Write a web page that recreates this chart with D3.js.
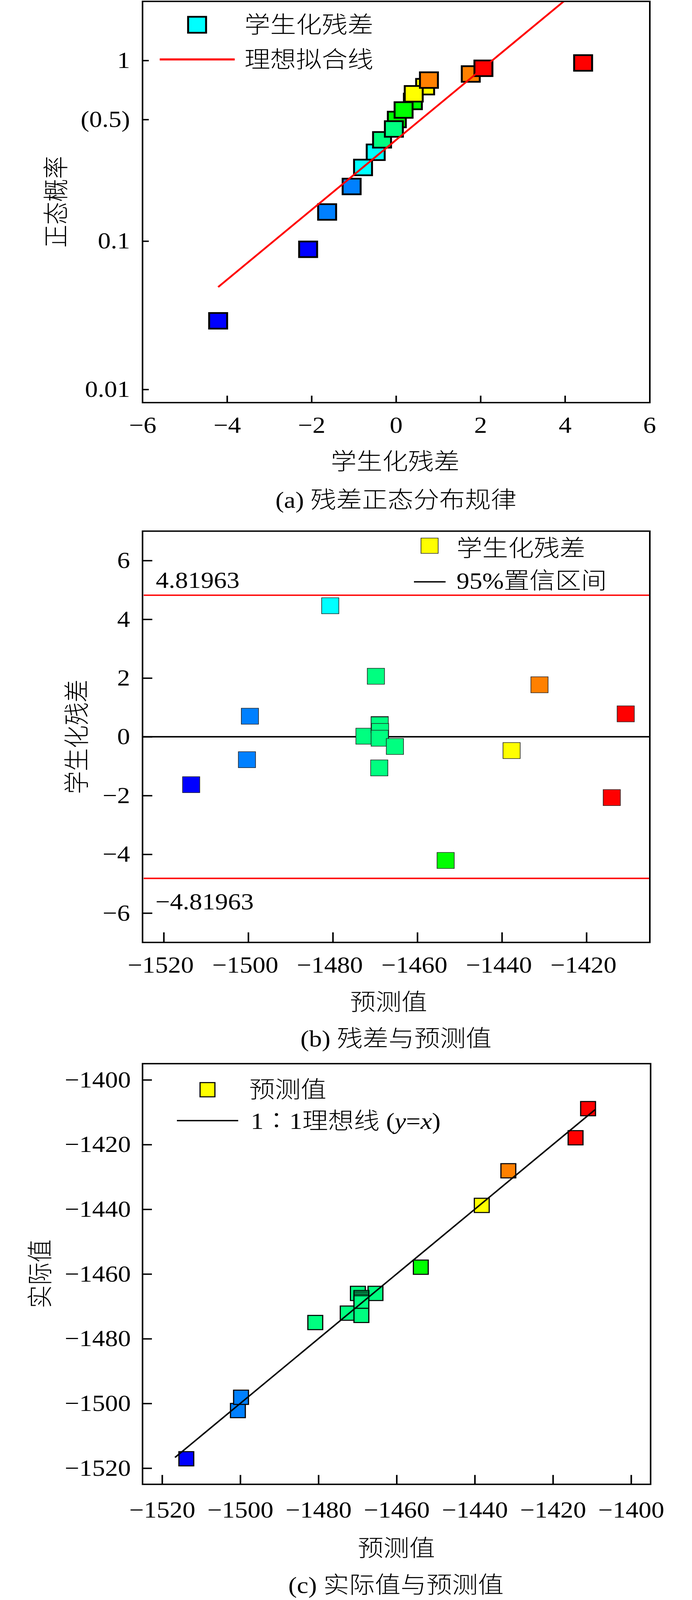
<!DOCTYPE html>
<html><head><meta charset="utf-8">
<script src="https://cdn.jsdelivr.net/npm/d3@7"></script>
<style>
html,body{margin:0;padding:0;background:#fff;overflow:hidden;}
svg{display:block;}
text{font-family:'Liberation Serif','Times New Roman','Noto Sans CJK SC',serif;fill:#000;font-weight:300;}
</style>
</head><body>
<svg id="chart"></svg>
<script>
// ---------- Panel (a): normal probability of studentized residuals ----------
const residA = [-4.21, -2.08, -1.63, -1.05, -0.48, -0.78, -0.33, 0.02, -0.05, 0.40, 0.69, 0.18, 0.42, 0.78, 1.77, 2.07, 4.43];
const probA  = [0.029, 0.088, 0.147, 0.206, 0.324, 0.265, 0.382, 0.500, 0.441, 0.618, 0.735, 0.559, 0.676, 0.794, 0.853, 0.912, 0.971];
const colorA = ['#0000ff','#0000ff','#0080ff','#0080ff','#00ffff','#00ffff','#00ff80','#00ff00','#00ff80','#00ff00','#ffff00','#00ff00','#ffff00','#ff8000','#ff8000','#ff0000','#ff0000'];
const xTicksA = [-6, -4, -2, 0, 2, 4, 6];
const yTicksA = [0.01, 0.1, 0.5, 1];
const yTickLabelsA = ['0.01', '0.1', '(0.5)', '1'];
const fitLineX = [-4.21, 3.97];
const fitLineP = [0.049, 2.0];
const legendA = ['学生化残差', '理想拟合线'];

// ---------- Panel (b): residuals vs predicted ----------
const predB  = [-1513.5, -1500.3, -1499.6, -1480.6, -1469.8, -1472.5, -1468.9, -1468.9, -1468.8, -1468.9, -1465.3, -1469.0, -1453.3, -1437.7, -1431.1, -1414.0, -1410.7];
const residB = [-1.63, -0.78, 0.70, 4.46, 2.06, 0.02, 0.42, 0.40, 0.18, -0.05, -0.33, -1.06, -4.21, -0.47, 1.77, -2.07, 0.78];
const colorB = ['#0000ff','#0080ff','#0080ff','#00ffff','#00ff80','#00ff80','#00ff80','#00ff80','#00ff80','#00ff80','#00ff80','#00ff80','#00ff00','#ffff00','#ff8000','#ff0000','#ff0000'];
const confLimit = 4.81963;
const xTicksB = [-1520, -1500, -1480, -1460, -1440, -1420];
const yTicksB = [-6, -4, -2, 0, 2, 4, 6];
const legendB = ['学生化残差', '95%置信区间'];

// ---------- Panel (c): actual vs predicted ----------
const predC   = [-1513.8, -1500.6, -1499.8, -1480.8, -1472.5, -1469.9, -1465.4, -1469.0, -1469.0, -1469.0, -1469.0, -1469.0, -1453.8, -1438.2, -1431.4, -1414.2, -1411.0];
const actualC = [-1517.1, -1502.2, -1498.1, -1475.0, -1472.1, -1466.0, -1466.0, -1467.3, -1467.8, -1468.4, -1468.9, -1472.8, -1457.9, -1438.8, -1428.1, -1417.9, -1408.9];
const colorC  = ['#0000ff','#0080ff','#0080ff','#00ff80','#00ff80','#00ff80','#00ff80','#00ff80','#00ff80','#00ff80','#00ff80','#00ff80','#00ff00','#ffff00','#ff8000','#ff0000','#ff0000'];
const idealLine = [-1516.7, -1409.2];
const ticksC = [-1520, -1500, -1480, -1460, -1440, -1420, -1400];
const legendC = ['预测值', '1∶1理想线 '];

const W = 1772, H = 4606;
const FS = 66;
// fit the full figure into the actual viewport height (the window may be shorter than the figure)
const viewH = Math.min(H, window.innerHeight || H);
const svg = d3.select('#chart').attr('width', W).attr('height', viewH)
  .attr('viewBox', `0 0 ${W} ${H}`).attr('preserveAspectRatio', 'none');
const fmt = d3.format('d');

function styleAxis(g) {
  g.attr('font-family', null).attr('font-size', FS);
  g.select('.domain').remove();
  g.selectAll('.tick line').attr('stroke', '#000').attr('stroke-width', 4);
  g.selectAll('.tick text').attr('fill', '#000');
}
function frame(x0, y0, x1, y1) {
  svg.append('rect').attr('x', x0).attr('y', y0).attr('width', x1 - x0).attr('height', y1 - y0)
    .attr('fill', 'none').attr('stroke', '#000').attr('stroke-width', 4);
}
function label(txt, x, y, anchor) {
  return svg.append('text').attr('x', x).attr('y', y).attr('font-size', FS)
    .attr('text-anchor', anchor || 'middle').attr('dominant-baseline', 'central').text(txt);
}
function vlabel(txt, x, y) {
  svg.append('text').attr('transform', `translate(${x},${y}) rotate(-90)`).attr('font-size', FS)
    .attr('text-anchor', 'middle').attr('dominant-baseline', 'central').text(txt);
}

// ================= Panel (a) =================
const A = {l: 365, t: 4, r: 1664, b: 1159};
const xA = d3.scaleLinear().domain([-6, 6]).range([A.l, 1663]);
const yAlin = d3.scaleLinear().domain([-2, -1, Math.log10(0.5), 0]).range([1121, 694, 344, 174]);
const yA = p => yAlin(Math.log10(p));

const gxA = svg.append('g').attr('transform', `translate(0,${A.b})`)
  .call(d3.axisBottom(xA).tickValues(xTicksA).tickFormat(fmt).tickSize(-20).tickPadding(40));
styleAxis(gxA);
gxA.selectAll('.tick line').filter(d => Math.abs(d) === 6).remove();
const gyA = svg.append('g').attr('transform', `translate(${A.l},0)`)
  .call(d3.axisLeft(yAlin).tickValues(yTicksA.map(Math.log10)).tickFormat((d, i) => yTickLabelsA[i]).tickSize(-16).tickPadding(32));
styleAxis(gyA);

svg.append('g').selectAll('rect').data(residA.map((r, i) => ({r, p: probA[i], c: colorA[i]}))).join('rect')
  .attr('x', d => xA(d.r) - 23).attr('y', d => yA(d.p) - 22.5).attr('width', 46).attr('height', 45)
  .attr('fill', d => d.c).attr('stroke', '#000').attr('stroke-width', 5);
svg.append('line')
  .attr('x1', xA(fitLineX[0])).attr('y1', yA(fitLineP[0]))
  .attr('x2', xA(fitLineX[1])).attr('y2', yA(fitLineP[1]))
  .attr('stroke', '#ff0000').attr('stroke-width', 5);
frame(A.l, A.t, A.r, A.b);

// legend (a)
svg.append('rect').attr('x', 504.7 - 23).attr('y', 71.3 - 23).attr('width', 46).attr('height', 46)
  .attr('fill', '#00ffff').attr('stroke', '#000').attr('stroke-width', 5);
label(legendA[0], 626, 72, 'start');
svg.append('line').attr('x1', 409).attr('x2', 601).attr('y1', 171).attr('y2', 171).attr('stroke', '#ff0000').attr('stroke-width', 6);
label(legendA[1], 626, 172, 'start');

vlabel('正态概率', 145, 581);
label('学生化残差', 1012, 1330);
label('(a) 残差正态分布规律', 1014, 1440);

// ================= Panel (b) =================
const B = {l: 365, t: 1529, r: 1664, b: 2713};
const xB = d3.scaleLinear().domain([-1525, -1405]).range([B.l, B.r]);
const yB = d3.scaleLinear().domain([-7, 7]).range([B.b, B.t]);

const gxB = svg.append('g').attr('transform', `translate(0,${B.b})`)
  .call(d3.axisBottom(xB).tickValues(xTicksB).tickFormat(fmt).tickSize(-29).tickPadding(40));
styleAxis(gxB);
gxB.selectAll('.tick text').attr('dx', -8);
const gyB = svg.append('g').attr('transform', `translate(${B.l},0)`)
  .call(d3.axisLeft(yB).tickValues(yTicksB).tickFormat(fmt).tickSize(-25).tickPadding(32));
styleAxis(gyB);

svg.append('line').attr('x1', B.l).attr('x2', B.r).attr('y1', yB(0)).attr('y2', yB(0)).attr('stroke', '#000').attr('stroke-width', 4);
[confLimit, -confLimit].forEach(v => {
  svg.append('line').attr('x1', B.l + 3).attr('x2', B.r - 2).attr('y1', yB(v)).attr('y2', yB(v))
    .attr('stroke', '#ff0000').attr('stroke-width', 4);
});
svg.append('text').attr('x', 399).attr('y', 1692).attr('font-size', FS).text(String(confLimit));
svg.append('text').attr('x', 398).attr('y', 2618).attr('font-size', FS).text('\u2212' + String(confLimit));

svg.append('g').selectAll('rect').data(predB.map((x, i) => ({x, y: residB[i], c: colorB[i]}))).join('rect')
  .attr('x', d => xB(d.x) - 22).attr('y', d => yB(d.y) - 23).attr('width', 44).attr('height', 46)
  .attr('fill', d => d.c).attr('stroke', '#222').attr('stroke-width', 1.6);
frame(B.l, B.t, B.r, B.b);

// legend (b)
svg.append('rect').attr('x', 1100 - 22).attr('y', 1571 - 22).attr('width', 44).attr('height', 44)
  .attr('fill', '#ffff00').attr('stroke', '#222').attr('stroke-width', 1.6);
label(legendB[0], 1169, 1579, 'start');
svg.append('line').attr('x1', 1060).attr('x2', 1141).attr('y1', 1675).attr('y2', 1675).attr('stroke', '#000').attr('stroke-width', 4);
label(legendB[1], 1169, 1673, 'start');

vlabel('学生化残差', 198, 2121);
label('预测值', 995, 2886);
label('(b) 残差与预测值', 1014, 2990);

// ================= Panel (c) =================
const C = {l: 365, t: 3062, r: 1666, b: 4273};
const xC = d3.scaleLinear().domain([-1525, -1395]).range([C.l, C.r]);
const yC = d3.scaleLinear().domain([-1525, -1395]).range([C.b, C.t]);

const gxC = svg.append('g').attr('transform', `translate(0,${C.b})`)
  .call(d3.axisBottom(xC).tickValues(ticksC).tickFormat(fmt).tickSize(-27).tickPadding(49));
styleAxis(gxC);
const gyC = svg.append('g').attr('transform', `translate(${C.l},0)`)
  .call(d3.axisLeft(yC).tickValues(ticksC).tickFormat(fmt).tickSize(-24).tickPadding(30));
styleAxis(gyC);

svg.append('g').selectAll('rect').data(predC.map((x, i) => ({x, y: actualC[i], c: colorC[i]}))).join('rect')
  .attr('x', d => xC(d.x) - 19).attr('y', d => yC(d.y) - 20.5).attr('width', 38).attr('height', 41)
  .attr('fill', d => d.c).attr('stroke', '#000').attr('stroke-width', 3);
svg.append('line')
  .attr('x1', xC(idealLine[0])).attr('y1', yC(idealLine[0]))
  .attr('x2', xC(idealLine[1])).attr('y2', yC(idealLine[1]))
  .attr('stroke', '#000').attr('stroke-width', 4);
frame(C.l, C.t, C.r, C.b);

// legend (c)
svg.append('rect').attr('x', 531.3 - 19).attr('y', 3137 - 20.5).attr('width', 38).attr('height', 41)
  .attr('fill', '#ffff00').attr('stroke', '#000').attr('stroke-width', 3);
label(legendC[0], 638, 3138, 'start');
svg.append('line').attr('x1', 453).attr('x2', 610).attr('y1', 3226).attr('y2', 3226).attr('stroke', '#000').attr('stroke-width', 4);
const lc = label(legendC[1], 642, 3228, 'start');
lc.append('tspan').text('(');
lc.append('tspan').attr('font-style', 'italic').text('y');
lc.append('tspan').text('=');
lc.append('tspan').attr('font-style', 'italic').text('x');
lc.append('tspan').text(')');

vlabel('实际值', 104, 3667);
label('预测值', 1015, 4458);
label('(c) 实际值与预测值', 1014, 4564);
</script>
</body></html>
